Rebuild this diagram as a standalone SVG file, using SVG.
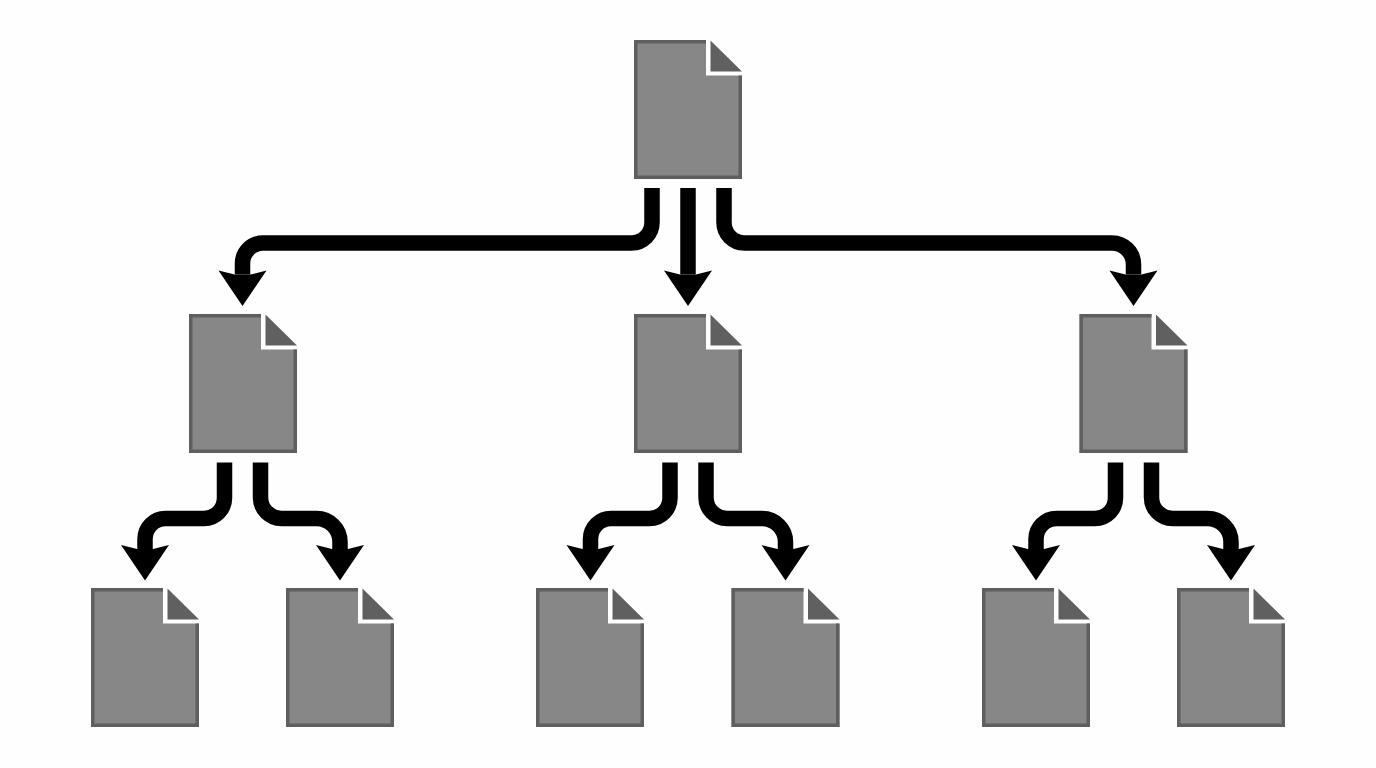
<svg xmlns="http://www.w3.org/2000/svg" xmlns:xlink="http://www.w3.org/1999/xlink" width="1376" height="768" viewBox="0 0 1376 768">
<style>
.wire{fill:none;stroke:#000;stroke-width:15.5}
.body{fill:#878787}
.edge{fill:none;stroke:#5f5f5f;stroke-width:3.5}
.fold{fill:#606060}
</style>
<defs>
<marker id="head" markerUnits="userSpaceOnUse" markerWidth="36" markerHeight="48" refX="4" refY="24" orient="auto" overflow="visible">
<polygon points="0,0 4,16 4,32 0,48 35.5,24" fill="#000"/>
</marker>
<g id="doc">
<polygon class="body" points="0,0 72,0 72,35.5 108,35.5 108,139 0,139"/>
<path class="edge" d="M72,1.75H1.75V137.25H106.25V35.5"/>
<polygon class="fold" points="76.5,0.5 76.5,31.5 108,31.5"/>
</g>
</defs>
<rect width="1376" height="768" fill="#fefefe"/>
<g id="connectors">
<path class="wire" marker-end="url(#head)" d="M652,188V222.5A20.5,20.5 0 0 1 631.5,243H263A20.5,20.5 0 0 0 242.5,263.5V274.5"/>
<path class="wire" marker-end="url(#head)" d="M688,188V274.5"/>
<path class="wire" marker-end="url(#head)" d="M724,188V222.5A20.5,20.5 0 0 0 744.5,243H1112A21.5,21.5 0 0 1 1133.5,264.5V274.5"/>
<g id="fan-left">
<path class="wire" marker-end="url(#head)" d="M224.5,462.5V497.5A20.5,20.5 0 0 1 204,518.5H165.5A20.5,20.5 0 0 0 145,539V549"/>
<path class="wire" marker-end="url(#head)" d="M260.5,462.5V497.5A21,21 0 0 0 281.5,518.5H316.5A23.5,23.5 0 0 1 340,542V549"/>
</g>
<g id="fan-middle" transform="translate(445.5 0)">
<path class="wire" marker-end="url(#head)" d="M224.5,462.5V497.5A20.5,20.5 0 0 1 204,518.5H165.5A20.5,20.5 0 0 0 145,539V549"/>
<path class="wire" marker-end="url(#head)" d="M260.5,462.5V497.5A21,21 0 0 0 281.5,518.5H316.5A23.5,23.5 0 0 1 340,542V549"/>
</g>
<g id="fan-right" transform="translate(891 0)">
<path class="wire" marker-end="url(#head)" d="M224.5,462.5V497.5A20.5,20.5 0 0 1 204,518.5H165.5A20.5,20.5 0 0 0 145,539V549"/>
<path class="wire" marker-end="url(#head)" d="M260.5,462.5V497.5A21,21 0 0 0 281.5,518.5H316.5A23.5,23.5 0 0 1 340,542V549"/>
</g>
</g>
<g id="root"><use href="#doc" x="634" y="40"/></g>
<g id="mid-1"><use href="#doc" x="189" y="314"/></g>
<g id="mid-2"><use href="#doc" x="634" y="314"/></g>
<g id="mid-3"><use href="#doc" x="1079.5" y="314"/></g>
<g id="leaf-1"><use href="#doc" x="91" y="588"/></g>
<g id="leaf-2"><use href="#doc" x="286" y="588"/></g>
<g id="leaf-3"><use href="#doc" x="536" y="588"/></g>
<g id="leaf-4"><use href="#doc" x="731.5" y="588"/></g>
<g id="leaf-5"><use href="#doc" x="982" y="588"/></g>
<g id="leaf-6"><use href="#doc" x="1177" y="588"/></g>
</svg>
